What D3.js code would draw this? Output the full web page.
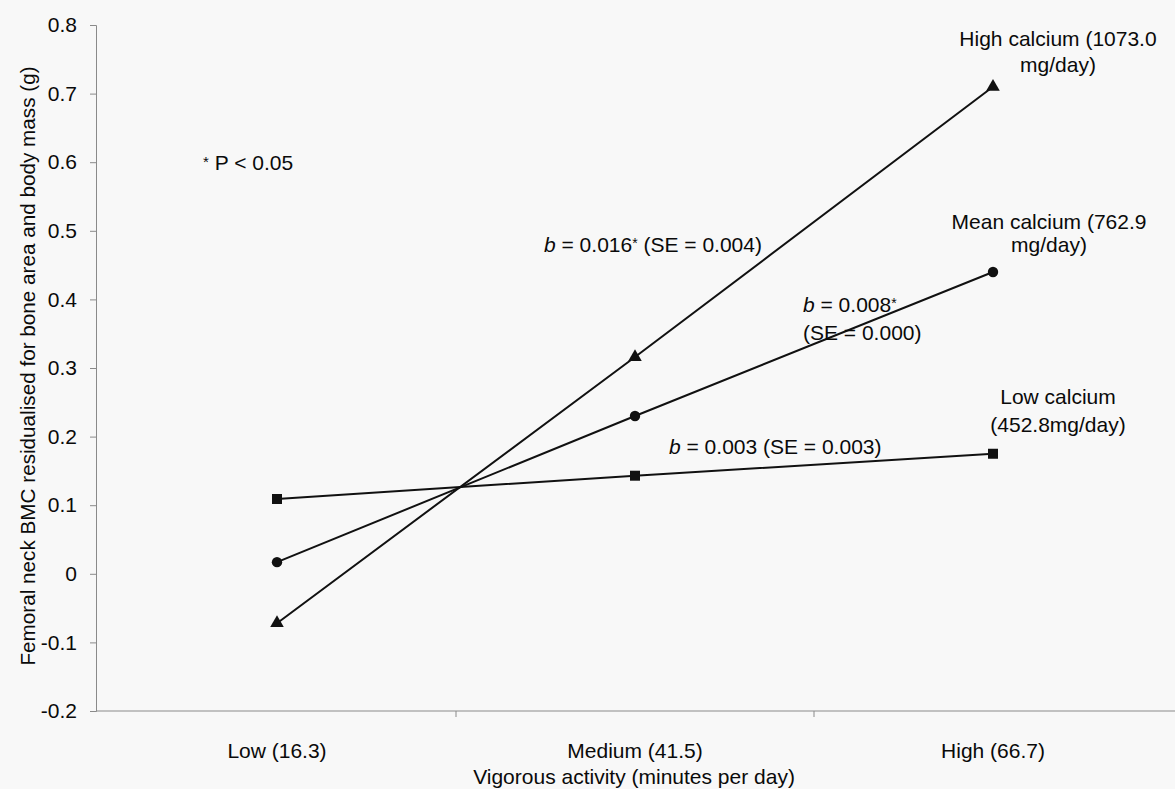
<!DOCTYPE html>
<html>
<head>
<meta charset="utf-8">
<script src="https://cdn.jsdelivr.net/npm/d3@7"></script>
<style>
  body { margin: 0; background: #f8f8f8; }
  svg { display: block; font-family: "Liberation Sans", Arial, sans-serif; }
  text { fill: #0a0a0a; }
</style>
</head>
<body>
<div id="chart"></div>
<script>
const activity = ["Low (16.3)", "Medium (41.5)", "High (66.7)"];
const lowCalcium = [0.109, 0.143, 0.175];
const meanCalcium = [0.017, 0.230, 0.440];
const highCalcium = [-0.072, 0.316, 0.710];
const yTicks = [-0.2, -0.1, 0, 0.1, 0.2, 0.3, 0.4, 0.5, 0.6, 0.7, 0.8];

const series = [
  { name: "low", values: lowCalcium, symbol: d3.symbolSquare, size: 100 },
  { name: "mean", values: meanCalcium, symbol: d3.symbolCircle, size: 85 },
  { name: "high", values: highCalcium, symbol: d3.symbolTriangle, size: 80 }
];

const fullWidth = 1175;
const fullHeight = 789;
const fs = 21;

const svg = d3
  .select("#chart")
  .append("svg")
  .attr("width", fullWidth)
  .attr("height", fullHeight);

const x = d3.scaleBand().domain(activity).range([98, 1172]).padding(0);
const y = d3.scaleLinear().domain([-0.2, 0.8]).range([711, 25]);
const cx = d => x(d) + x.bandwidth() / 2;

// y axis
const yAxis = d3
  .axisLeft(y)
  .tickValues(yTicks)
  .tickSize(6)
  .tickPadding(13)
  .tickFormat(d => String(Math.round(d * 10) / 10));

const gy = svg.append("g").attr("transform", "translate(96,0)").call(yAxis);
gy.select(".domain").attr("stroke", "#8a8a8a");
gy.selectAll(".tick line").attr("stroke", "#8a8a8a");
gy.selectAll(".tick text")
  .attr("font-size", fs)
  .attr("fill", "#0a0a0a")
  .attr("font-family", "Liberation Sans, Arial, sans-serif");

// x axis: line with ticks between categories, labels at centres
const gx = svg.append("g");
gx.append("line")
  .attr("x1", 96)
  .attr("x2", fullWidth)
  .attr("y1", y(-0.2))
  .attr("y2", y(-0.2))
  .attr("stroke", "#8a8a8a");
gx.selectAll(".xtick")
  .data(activity.slice(1))
  .join("line")
  .attr("x1", d => x(d))
  .attr("x2", d => x(d))
  .attr("y1", y(-0.2))
  .attr("y2", y(-0.2) + 6)
  .attr("stroke", "#8a8a8a");

const xAxis = d3.axisBottom(x).tickSize(0).tickPadding(32);
const gxl = svg.append("g").attr("transform", `translate(0,${y(-0.2)})`).call(xAxis);
gxl.select(".domain").remove();
gxl.selectAll(".tick text")
  .attr("font-size", fs)
  .attr("fill", "#0a0a0a")
  .attr("font-family", "Liberation Sans, Arial, sans-serif");

// axis titles
svg.append("text")
  .attr("x", 634)
  .attr("y", 784)
  .attr("text-anchor", "middle")
  .attr("font-size", fs)
  .text("Vigorous activity (minutes per day)");

svg.append("text")
  .attr("transform", "translate(35,366) rotate(-90)")
  .attr("text-anchor", "middle")
  .attr("font-size", 20.7)
  .text("Femoral neck BMC residualised for bone area and body mass (g)");

// lines and markers
const line = d3
  .line()
  .x((d, i) => cx(activity[i]))
  .y(d => y(d));

series.forEach(s => {
  svg.append("path")
    .datum(s.values)
    .attr("d", line)
    .attr("fill", "none")
    .attr("stroke", "#111")
    .attr("stroke-width", 2);

  svg.selectAll(`.pt-${s.name}`)
    .data(s.values)
    .join("path")
    .attr("transform", (d, i) => `translate(${cx(activity[i])},${y(d)})`)
    .attr("d", d3.symbol().type(s.symbol).size(s.size))
    .attr("fill", "#111");
});

// annotations
const note = (tx, ty, anchor) =>
  svg.append("text")
    .attr("x", tx)
    .attr("y", ty)
    .attr("text-anchor", anchor)
    .attr("font-size", fs);

const p = note(203, 170, "start");
p.append("tspan").attr("font-size", 15).attr("dy", -3).text("*");
p.append("tspan").attr("dy", 3).text(" P < 0.05");

note(1058, 46, "middle").text("High calcium (1073.0");
note(1058, 72, "middle").text("mg/day)");
note(1049, 229, "middle").text("Mean calcium (762.9");
note(1049, 252, "middle").text("mg/day)");
note(1058, 404, "middle").text("Low calcium");
note(1058, 432, "middle").text("(452.8mg/day)");

const b1 = note(544, 252, "start");
b1.append("tspan").attr("font-style", "italic").text("b");
b1.append("tspan").text("  = 0.016");
b1.append("tspan").attr("font-size", 14).attr("dy", -4).text("*");
b1.append("tspan").attr("dy", 4).text(" (SE = 0.004)");

const b2 = note(803, 312, "start");
b2.append("tspan").attr("font-style", "italic").text("b");
b2.append("tspan").text(" = 0.008");
b2.append("tspan").attr("font-size", 14).attr("dy", -4).text("*");
note(803, 340, "start").text("(SE = 0.000)");

const b3 = note(669, 454, "start");
b3.append("tspan").attr("font-style", "italic").text("b");
b3.append("tspan").text("  = 0.003 (SE = 0.003)");
</script>
</body>
</html>
